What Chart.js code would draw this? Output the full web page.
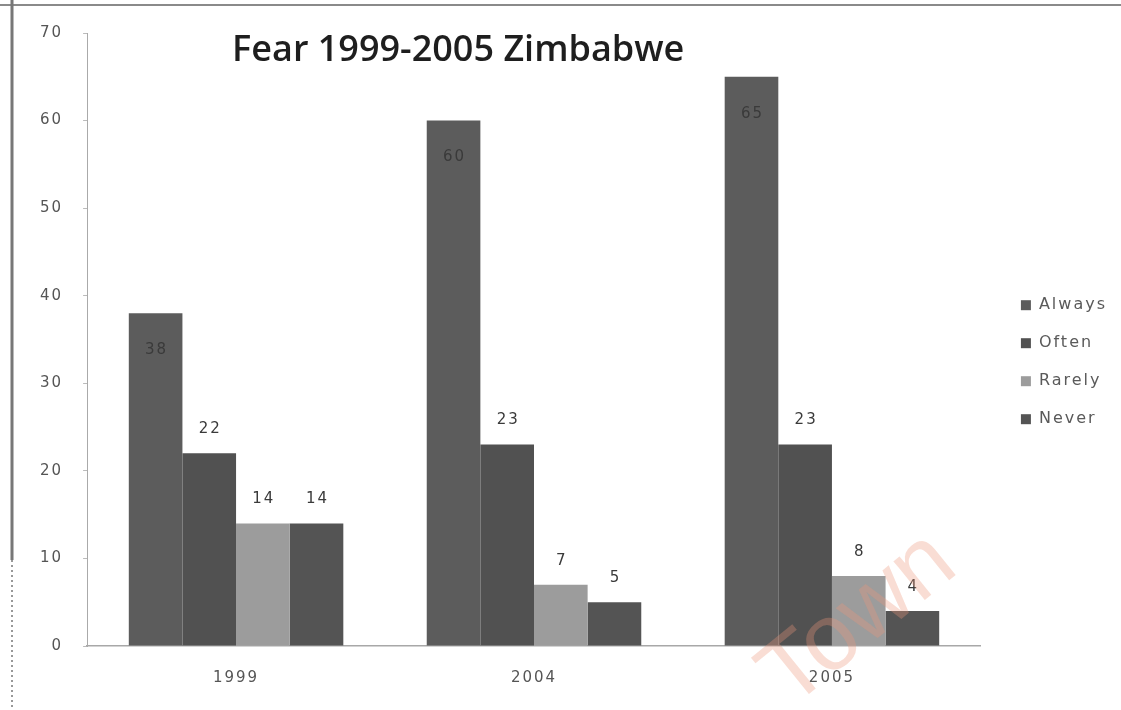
<!DOCTYPE html>
<html>
<head>
<meta charset="utf-8">
<script src="https://cdn.jsdelivr.net/npm/chart.js@4.4.1/dist/chart.umd.min.js"></script>
<style>
  html, body { margin: 0; padding: 0; background: #fff; }
  #wrap { width: 1121px; height: 710px; }
</style>
</head>
<body>
<div id="wrap"><canvas id="fearChart" width="1121" height="710"></canvas></div>
<script>
// survey years and answer groups
const years = ['1999', '2004', '2005'];
const answers = ['Always', 'Often', 'Rarely', 'Never'];

// percentages per answer, one entry per year
const always = [38, 60, 65];
const often = [22, 23, 23];
const rarely = [14, 7, 8];
const never = [14, 5, 4];

const yTicks = [0, 10, 20, 30, 40, 50, 60, 70];

const colors = ['#5c5c5c', '#515151', '#9c9c9c', '#545454'];
const series = [always, often, rarely, never];

// wide-set glyphs for axis, legend and value text
const spacing = {
  id: 'spacing',
  beforeLayout(chart) { chart.ctx.letterSpacing = '2px'; },
  beforeDraw(chart) { chart.ctx.letterSpacing = '2px'; }
};

// empty box between plot and legend to keep a gap there
const legendGap = {
  id: 'legendGap',
  beforeInit(chart) {
    Chart.layouts.addBox(chart, {
      position: 'right',
      weight: 500,
      fullSize: false,
      options: {},
      width: 0,
      height: 0,
      isHorizontal() { return false; },
      update(maxWidth, maxHeight) { this.width = 18; this.height = maxHeight; },
      draw() {}
    });
  }
};

// value labels: inside the top for "Always", above the bar for the rest
const valueLabels = {
  id: 'valueLabels',
  afterDatasetsDraw(chart) {
    const ctx = chart.ctx;
    ctx.save();
    ctx.font = '15px "DejaVu Sans"';
    ctx.fillStyle = '#3a3a3a';
    ctx.textAlign = 'center';
    ctx.textBaseline = 'middle';
    chart.data.datasets.forEach((ds, i) => {
      const meta = chart.getDatasetMeta(i);
      meta.data.forEach((bar, j) => {
        const y = i === 0 ? bar.y + 37 : bar.y - 24;
        ctx.fillText(String(ds.data[j]), bar.x + 1, y);
      });
    });
    ctx.restore();
  }
};

// heading sits inside the plot, plus the scanned page edges and stamp
const decor = {
  id: 'decor',
  beforeDraw(chart) {
    const ctx = chart.ctx;
    ctx.save();
    ctx.fillStyle = '#fff';
    ctx.fillRect(0, 0, chart.width, chart.height);
    ctx.strokeStyle = '#8a8a8a';
    ctx.lineWidth = 2;
    ctx.beginPath();
    ctx.moveTo(0, 5);
    ctx.lineTo(chart.width, 5);
    ctx.stroke();
    ctx.strokeStyle = '#777';
    ctx.lineWidth = 3;
    ctx.beginPath();
    ctx.moveTo(12, 0);
    ctx.lineTo(12, 560);
    ctx.stroke();
    ctx.setLineDash([2, 3]);
    ctx.lineWidth = 1.5;
    ctx.beginPath();
    ctx.moveTo(12, 560);
    ctx.lineTo(12, 710);
    ctx.stroke();
    ctx.restore();
  },
  afterDraw(chart) {
    const ctx = chart.ctx;
    const area = chart.chartArea;
    ctx.save();
    ctx.letterSpacing = '0px';
    ctx.font = '600 36px "Open Sans"';
    ctx.fillStyle = '#1e1e1e';
    ctx.textBaseline = 'alphabetic';
    ctx.fillText('Fear 1999-2005 Zimbabwe', area.left + 145, area.top + 28);

    ctx.translate(area.right - 122, area.bottom - 26);
    ctx.rotate(-39 * Math.PI / 180);
    ctx.font = '94px "Liberation Sans"';
    ctx.fillStyle = 'rgba(235, 150, 120, 0.32)';
    ctx.textAlign = 'center';
    ctx.textBaseline = 'middle';
    ctx.fillText('Town', 0, 0);
    ctx.restore();
  }
};

new Chart(document.getElementById('fearChart'), {
  type: 'bar',
  data: {
    labels: years,
    datasets: answers.map((name, i) => ({
      label: name,
      data: series[i],
      backgroundColor: colors[i],
      borderWidth: 0,
      categoryPercentage: 0.72,
      barPercentage: 1.0
    }))
  },
  options: {
    responsive: false,
    animation: false,
    layout: { padding: { top: 33, left: 20, right: 4, bottom: 8 } },
    scales: {
      x: {
        grid: { display: false },
        border: { color: '#a8a8a8', width: 1.5 },
        ticks: { color: '#555', font: { family: 'DejaVu Sans', size: 15 }, padding: 15 }
      },
      y: {
        min: 0,
        max: 70,
        afterBuildTicks(axis) { axis.ticks = yTicks.map(v => ({ value: v })); },
        grid: { drawOnChartArea: false, tickLength: 4, color: '#bbb' },
        border: { color: '#aaa', dash: [2, 3] },
        ticks: { color: '#555', font: { family: 'DejaVu Sans', size: 15 }, padding: 20 }
      }
    },
    plugins: {
      legend: {
        position: 'right',
        fullSize: false,
        title: { display: true, text: '', font: { size: 12 }, padding: { top: 15, bottom: 16 } },
        labels: {
          boxWidth: 10,
          boxHeight: 10,
          padding: 22,
          color: '#5a5a5a',
          font: { family: 'DejaVu Sans', size: 16 }
        }
      },
      tooltip: { enabled: false }
    }
  },
  plugins: [spacing, legendGap, decor, valueLabels]
});
</script>
</body>
</html>
